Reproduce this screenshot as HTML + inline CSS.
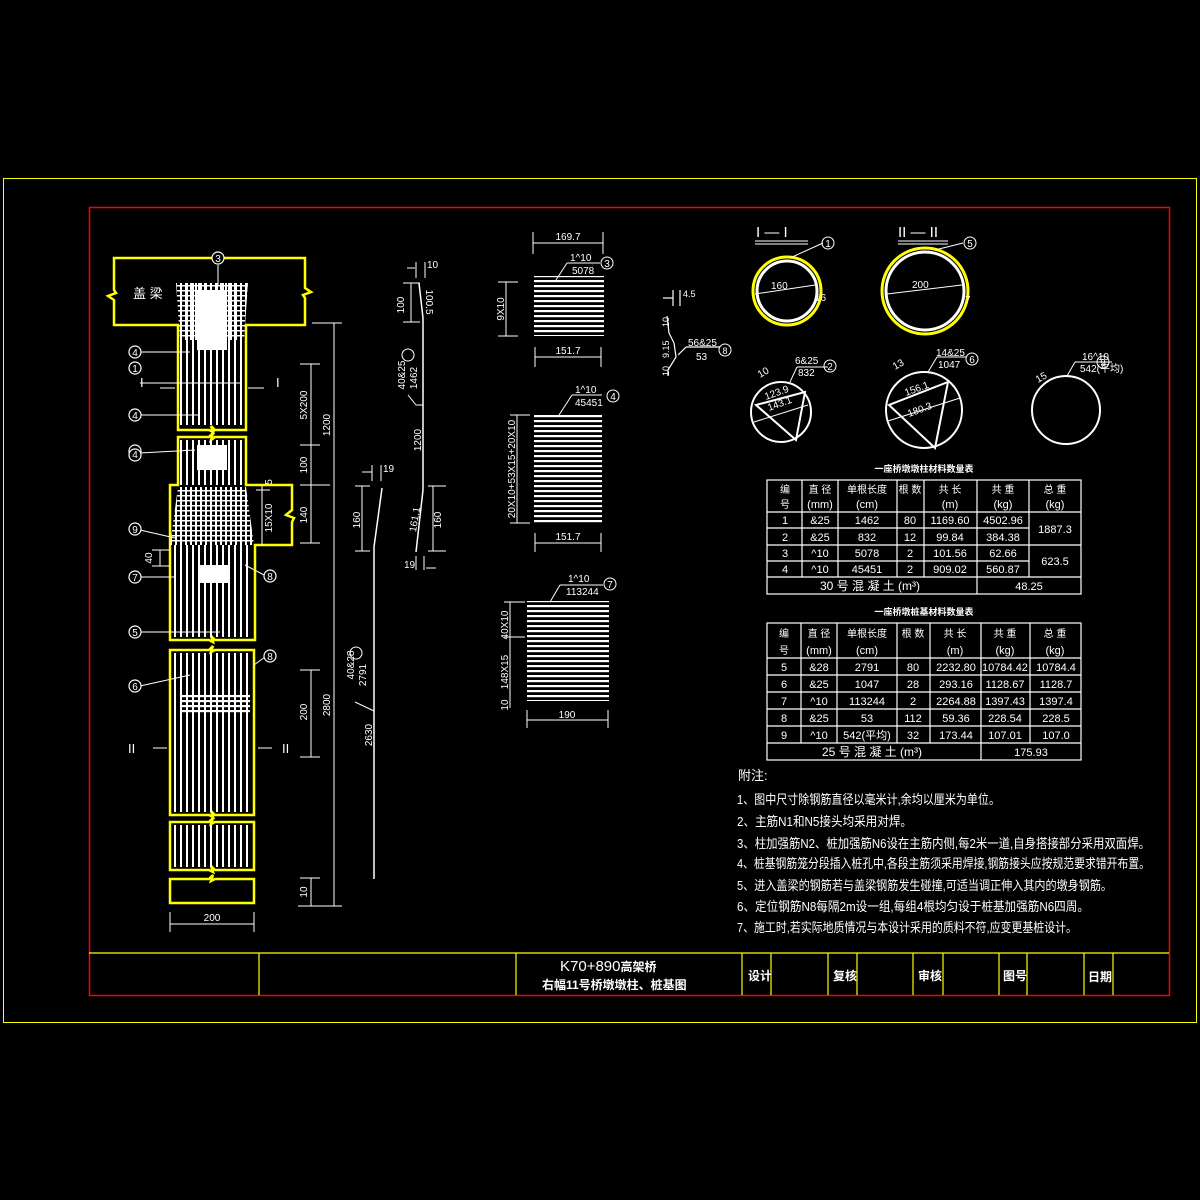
<!DOCTYPE html>
<html><head><meta charset="utf-8"><style>
html,body{margin:0;padding:0;background:#000;}
svg{display:block}
text{font-family:"Liberation Sans","Noto Sans CJK SC",sans-serif;fill:#fff}
</style></head><body>
<svg width="1200" height="1200" viewBox="0 0 1200 1200" xmlns="http://www.w3.org/2000/svg">
<defs>
<pattern id="vb" width="6" height="10" patternUnits="userSpaceOnUse"><rect x="0" y="0" width="2" height="10" fill="#fff"/></pattern>
<pattern id="hb" width="10" height="5" patternUnits="userSpaceOnUse"><rect x="0" y="0" width="10" height="2.2" fill="#fff"/></pattern>
<pattern id="grid" width="5" height="5" patternUnits="userSpaceOnUse"><rect width="2" height="5" fill="#fff"/><rect width="5" height="1.5" fill="#fff"/></pattern>
</defs>
<rect width="1200" height="1200" fill="#000"/>
<rect x="3.5" y="178.5" width="1193" height="844" fill="none" stroke="#ff0" stroke-width="1"/>
<rect x="89.5" y="207.5" width="1080" height="788" fill="none" stroke="#f00" stroke-width="1.5"/>
<g stroke="#ff0" stroke-width="1.2">
<line x1="89" y1="953" x2="1169" y2="953"/>
<line x1="259" y1="953" x2="259" y2="995"/><line x1="516" y1="953" x2="516" y2="995"/>
<line x1="742" y1="953" x2="742" y2="995"/><line x1="771" y1="953" x2="771" y2="995"/>
<line x1="828" y1="953" x2="828" y2="995"/><line x1="857" y1="953" x2="857" y2="995"/>
<line x1="913" y1="953" x2="913" y2="995"/><line x1="943" y1="953" x2="943" y2="995"/>
<line x1="999" y1="953" x2="999" y2="995"/><line x1="1027" y1="953" x2="1027" y2="995"/>
<line x1="1084" y1="953" x2="1084" y2="995"/><line x1="1113" y1="953" x2="1113" y2="995"/>
</g>
<text x="560" y="971" font-size="15">K70+890<tspan font-size="12" font-weight="bold">高架桥</tspan></text>
<text x="542" y="989" font-size="12" font-weight="bold">右幅11号桥墩墩柱、桩基图</text>
<g font-size="12" font-weight="bold"><text x="748" y="980">设计</text><text x="833" y="980">复核</text><text x="918" y="980">审核</text><text x="1003" y="980">图号</text><text x="1088" y="981">日期</text></g>

<g fill="none" stroke="#ff0" stroke-width="2.5">
<path d="M178,325 H114 V300 L108,296 L116,293 L114,290 V258 H305 V288 L311,292 L303,295 L305,298 V325 H246 V430 H215 L211,426 L213,432 L209,430 H178 Z"/>
<path d="M178,437 H209 L213,433 L211,440 L215,437 H246 V485 H292 V510 L286,515 L294,518 L292,522 V545 H255 V640 H215 L211,636 L213,642 L209,640 H170 V485 H178 Z"/>
<path d="M170,650 H209 L213,646 L211,652 L215,650 H254 V815 H215 L211,811 L213,817 L209,815 H170 Z"/>
<path d="M170,822 H209 L213,818 L211,824 L215,822 H254 V870 H215 L211,866 L213,872 L209,870 H170 Z"/>
<path d="M170,879 H209 L213,875 L211,881 L215,879 H254 V903 H170 Z"/>
</g>
<path d="M176,283 L248,283 L244,325 L244,425 L180,425 L180,325 Z" fill="url(#vb)"/>
<path d="M176,283 L248,283 L244,340 L180,340 Z" fill="url(#grid)"/>
<rect x="197" y="290" width="30" height="60" fill="#fff"/>
<rect x="180" y="440" width="64" height="45" fill="url(#vb)"/>
<rect x="197" y="445" width="30" height="25" fill="#fff"/>
<path d="M178,487 L246,487 L254,545 L170,545 Z" fill="url(#grid)"/>
<rect x="172" y="545" width="80" height="92" fill="url(#vb)"/>
<rect x="200" y="565" width="30" height="18" fill="#fff"/>
<rect x="174" y="653" width="76" height="159" fill="url(#vb)"/>
<rect x="180" y="695" width="70" height="18" fill="url(#hb)"/>
<rect x="174" y="825" width="76" height="42" fill="url(#vb)"/>
<g stroke="#fff" stroke-width="1" fill="none">
<line x1="140" y1="383" x2="240" y2="383"/><line x1="140" y1="352" x2="190" y2="352"/><line x1="140" y1="415" x2="200" y2="415"/>
<line x1="140" y1="453" x2="195" y2="450"/><line x1="140" y1="530" x2="175" y2="538"/><line x1="140" y1="577" x2="175" y2="577"/><line x1="140" y1="632" x2="220" y2="632"/>
<line x1="140" y1="686" x2="190" y2="675"/><line x1="245" y1="565" x2="264" y2="575"/><line x1="254" y1="665" x2="265" y2="657"/>
<line x1="218" y1="265" x2="218" y2="285"/>
</g>
<g stroke="#fff" stroke-width="1.2" fill="#000" font-size="10">
<circle cx="218" cy="258" r="6"/><circle cx="135" cy="352" r="6"/><circle cx="135" cy="368" r="6"/><circle cx="135" cy="415" r="6"/><circle cx="135" cy="451" r="6"/><circle cx="135" cy="455" r="6"/><circle cx="135" cy="529" r="6"/><circle cx="135" cy="577" r="6"/><circle cx="135" cy="632" r="6"/><circle cx="135" cy="686" r="6"/><circle cx="270" cy="576" r="6"/><circle cx="270" cy="656" r="6"/>
</g>
<g font-size="10" text-anchor="middle"><text x="218" y="262">3</text><text x="135" y="356">4</text><text x="135" y="372">1</text><text x="135" y="419">4</text><text x="135" y="458">4</text><text x="135" y="533">9</text><text x="135" y="581">7</text><text x="135" y="636">5</text><text x="135" y="690">6</text><text x="270" y="580">8</text><text x="270" y="660">8</text></g>
<text x="133" y="298" font-size="13">盖 梁</text>
<g fill="#fff" font-size="13" font-family="Liberation Serif"><text x="140" y="387">I</text><text x="276" y="387">I</text><text x="128" y="753">II</text><text x="282" y="753">II</text></g>
<g stroke="#fff" stroke-width="1"><line x1="160" y1="388" x2="175" y2="388"/><line x1="248" y1="388" x2="264" y2="388"/><line x1="153" y1="748" x2="167" y2="748"/><line x1="258" y1="748" x2="272" y2="748"/></g>
<g stroke="#fff" stroke-width="1" fill="none">
<line x1="312" y1="323" x2="342" y2="323"/><line x1="334" y1="323" x2="334" y2="906"/><line x1="298" y1="906" x2="342" y2="906"/>
<line x1="300" y1="364" x2="320" y2="364"/><line x1="311" y1="364" x2="311" y2="543"/><line x1="300" y1="445" x2="320" y2="445"/><line x1="300" y1="485" x2="330" y2="485"/><line x1="300" y1="543" x2="320" y2="543"/>
<line x1="300" y1="670" x2="320" y2="670"/><line x1="311" y1="670" x2="311" y2="757"/><line x1="300" y1="757" x2="320" y2="757"/>
<line x1="300" y1="878" x2="320" y2="878"/><line x1="311" y1="878" x2="311" y2="906"/>
<line x1="262" y1="485" x2="262" y2="546"/><line x1="256" y1="490" x2="270" y2="490"/>
<line x1="170" y1="912" x2="170" y2="932"/><line x1="254" y1="912" x2="254" y2="932"/><line x1="170" y1="924" x2="254" y2="924"/>
<line x1="160" y1="550" x2="160" y2="566"/><line x1="152" y1="550" x2="170" y2="550"/><line x1="152" y1="566" x2="170" y2="566"/>
</g>
<g font-size="10" fill="#fff">
<text transform="translate(330,425) rotate(-90)" text-anchor="middle">1200</text>
<text transform="translate(307,405) rotate(-90)" text-anchor="middle">5X200</text>
<text transform="translate(307,465) rotate(-90)" text-anchor="middle">100</text>
<text transform="translate(307,515) rotate(-90)" text-anchor="middle">140</text>
<text transform="translate(272,518) rotate(-90)" text-anchor="middle">15X10</text>
<text transform="translate(272,482) rotate(-90)" text-anchor="middle">5</text>
<text transform="translate(330,705) rotate(-90)" text-anchor="middle">2800</text>
<text transform="translate(307,712) rotate(-90)" text-anchor="middle">200</text>
<text transform="translate(307,892) rotate(-90)" text-anchor="middle">10</text>
<text transform="translate(152,558) rotate(-90)" text-anchor="middle">40</text>
<text x="212" y="921" text-anchor="middle">200</text>
</g>
<g stroke="#fff" stroke-width="1.5" fill="none">
<path d="M419,283 L423,318 L423,490 L416,552"/>
<path d="M382,488 L374,547 L374,879"/>
</g>
<g stroke="#fff" stroke-width="1" fill="none">
<line x1="403" y1="283" x2="420" y2="283"/><line x1="411" y1="283" x2="411" y2="322"/><line x1="403" y1="322" x2="420" y2="322"/>
<line x1="416" y1="262" x2="416" y2="278"/><line x1="425" y1="262" x2="425" y2="278"/><line x1="407" y1="268" x2="415" y2="268"/>
<line x1="408" y1="395" x2="416" y2="405"/><line x1="416" y1="405" x2="423" y2="405"/>
<line x1="355" y1="486" x2="370" y2="486"/><line x1="362" y1="486" x2="362" y2="551"/><line x1="355" y1="551" x2="370" y2="551"/>
<line x1="372" y1="465" x2="372" y2="481"/><line x1="381" y1="465" x2="381" y2="481"/><line x1="362" y1="472" x2="372" y2="472"/>
<line x1="428" y1="486" x2="446" y2="486"/><line x1="433" y1="486" x2="433" y2="551"/><line x1="428" y1="551" x2="446" y2="551"/>
<line x1="416" y1="556" x2="416" y2="570"/><line x1="424" y1="556" x2="424" y2="570"/><line x1="426" y1="568" x2="436" y2="568"/>
<line x1="355" y1="702" x2="374" y2="711"/>
</g>
<g font-size="10" fill="#fff">
<text x="427" y="268">10</text>
<text transform="translate(404,305) rotate(-90)" text-anchor="middle">100</text>
<text transform="translate(426,302) rotate(90)" text-anchor="middle">100.5</text>
<text transform="translate(405,375) rotate(-90)" text-anchor="middle">40&amp;25</text>
<text transform="translate(417,378) rotate(-90)" text-anchor="middle">1462</text>
<circle cx="408" cy="355" r="6" fill="none" stroke="#fff"/>
<text transform="translate(421,440) rotate(-90)" text-anchor="middle">1200</text>
<text transform="translate(418,520) rotate(-80)" text-anchor="middle">161.1</text>
<text transform="translate(360,520) rotate(-90)" text-anchor="middle">160</text>
<text transform="translate(441,520) rotate(-90)" text-anchor="middle">160</text>
<text x="383" y="472">19</text><text x="404" y="568">19</text>
<text transform="translate(354,665) rotate(-90)" text-anchor="middle">40&amp;28</text>
<text transform="translate(366,675) rotate(-90)" text-anchor="middle">2791</text>
<circle cx="356" cy="653" r="6" fill="none" stroke="#fff"/>
<text transform="translate(372,735) rotate(-90)" text-anchor="middle">2630</text>
</g>
<rect x="534" y="276" width="70" height="60" fill="url(#hb)"/>
<rect x="534" y="414" width="68" height="110" fill="url(#hb)"/>
<rect x="527" y="601" width="82" height="100" fill="url(#hb)"/>
<g stroke="#fff" stroke-width="1" fill="none">
<line x1="533" y1="232" x2="533" y2="254"/><line x1="603" y1="232" x2="603" y2="254"/><line x1="533" y1="243" x2="603" y2="243"/>
<line x1="535" y1="347" x2="535" y2="367"/><line x1="601" y1="347" x2="601" y2="367"/><line x1="535" y1="357" x2="601" y2="357"/>
<line x1="498" y1="282" x2="518" y2="282"/><line x1="506" y1="282" x2="506" y2="336"/><line x1="498" y1="336" x2="518" y2="336"/>
<line x1="556" y1="280" x2="567" y2="263"/><line x1="567" y1="263" x2="600" y2="263"/>
<line x1="559" y1="415" x2="572" y2="395"/><line x1="572" y1="395" x2="602" y2="395"/>
<line x1="517" y1="415" x2="517" y2="523"/><line x1="510" y1="415" x2="530" y2="415"/><line x1="510" y1="523" x2="530" y2="523"/>
<line x1="535" y1="533" x2="535" y2="552"/><line x1="601" y1="533" x2="601" y2="552"/><line x1="535" y1="543" x2="601" y2="543"/>
<line x1="550" y1="602" x2="560" y2="585"/><line x1="560" y1="585" x2="603" y2="585"/>
<line x1="510" y1="602" x2="510" y2="708"/><line x1="504" y1="602" x2="525" y2="602"/><line x1="504" y1="637" x2="525" y2="637"/>
<line x1="527" y1="710" x2="527" y2="728"/><line x1="608" y1="710" x2="608" y2="728"/><line x1="527" y1="720" x2="608" y2="720"/>
</g>
<g font-size="10" fill="#fff">
<text x="568" y="240" text-anchor="middle">169.7</text>
<text x="568" y="354" text-anchor="middle">151.7</text>
<text transform="translate(504,309) rotate(-90)" text-anchor="middle">9X10</text>
<text x="570" y="261">1^10</text><text x="572" y="274">5078</text>
<circle cx="607" cy="263" r="6" fill="none" stroke="#fff"/><text x="607" y="267" text-anchor="middle">3</text>
<text x="575" y="393">1^10</text><text x="575" y="406">45451</text>
<circle cx="613" cy="396" r="6" fill="none" stroke="#fff"/><text x="613" y="400" text-anchor="middle">4</text>
<text transform="translate(515,469) rotate(-90)" text-anchor="middle">20X10+53X15+20X10</text>
<text x="568" y="540" text-anchor="middle">151.7</text>
<text x="568" y="582">1^10</text><text x="566" y="595">113244</text>
<circle cx="610" cy="584" r="6" fill="none" stroke="#fff"/><text x="610" y="588" text-anchor="middle">7</text>
<text transform="translate(508,625) rotate(-90)" text-anchor="middle">40X10</text>
<text transform="translate(508,672) rotate(-90)" text-anchor="middle">148X15</text>
<text transform="translate(508,705) rotate(-90)" text-anchor="middle">10</text>
<text x="567" y="718" text-anchor="middle">190</text>
</g>
<g stroke="#fff" stroke-width="1.2" fill="none">
<path d="M667,316 L669,333 L674,343 L676,357 L668,370 L668,376"/>
<line x1="663" y1="298" x2="673" y2="298"/><line x1="673" y1="290" x2="673" y2="306"/><line x1="680" y1="290" x2="680" y2="306"/>
<line x1="678" y1="355" x2="686" y2="347"/><line x1="686" y1="347" x2="720" y2="347"/>
</g>
<g font-size="9" fill="#fff">
<text x="683" y="297">4.5</text>
<text transform="translate(669,327) rotate(-90)">10</text>
<text transform="translate(669,358) rotate(-90)">9.15</text>
<text transform="translate(669,376) rotate(-90)">10</text>
<text x="688" y="346" font-size="10">56&amp;25</text><text x="696" y="360" font-size="10">53</text>
<circle cx="725" cy="350" r="6" fill="none" stroke="#fff"/><text x="725" y="354" text-anchor="middle">8</text>
</g>
<g font-family="Liberation Serif" font-size="15" fill="#fff"><text x="756" y="237">I — I</text><text x="898" y="237">II — II</text></g>
<g stroke="#fff" stroke-width="1"><line x1="755" y1="241" x2="808" y2="241"/><line x1="755" y1="244" x2="808" y2="244"/><line x1="898" y1="241" x2="948" y2="241"/><line x1="898" y1="244" x2="948" y2="244"/></g>
<circle cx="787" cy="291" r="34" fill="none" stroke="#ff0" stroke-width="3"/>
<circle cx="787" cy="291" r="30" fill="none" stroke="#fff" stroke-width="3"/>
<circle cx="925" cy="291" r="43" fill="none" stroke="#ff0" stroke-width="3"/>
<circle cx="925" cy="291" r="39" fill="none" stroke="#fff" stroke-width="3"/>
<g stroke="#fff" stroke-width="1" fill="none">
<line x1="755" y1="294" x2="815" y2="285"/><line x1="790" y1="258" x2="823" y2="243"/>
<line x1="887" y1="294" x2="962" y2="285"/><line x1="935" y1="250" x2="963" y2="243"/>
<circle cx="781" cy="412" r="30" stroke-width="2"/><path d="M756,405 L805,392 L796,440 Z" stroke-width="2"/><line x1="754" y1="422" x2="808" y2="405"/>
<line x1="790" y1="382" x2="797" y2="367"/><line x1="797" y1="367" x2="828" y2="367"/>
<circle cx="924" cy="410" r="38" stroke-width="2"/><path d="M889,405 L948,382 L935,448 Z" stroke-width="2"/><line x1="888" y1="421" x2="960" y2="398"/>
<line x1="928" y1="372" x2="937" y2="357"/><line x1="937" y1="357" x2="966" y2="357"/>
<circle cx="1066" cy="410" r="34" stroke-width="2"/>
<line x1="1067" y1="376" x2="1075" y2="362"/><line x1="1075" y1="362" x2="1112" y2="362"/>
</g>
<g font-size="10" fill="#fff">
<text x="771" y="289">160</text><text x="912" y="288">200</text>
<text x="815" y="301">16</text><text x="965" y="303">7</text>
<circle cx="828" cy="243" r="6" fill="none" stroke="#fff"/><text x="828" y="247" text-anchor="middle">1</text>
<circle cx="970" cy="243" r="6" fill="none" stroke="#fff"/><text x="970" y="247" text-anchor="middle">5</text>
<text x="795" y="364">6&amp;25</text><text x="798" y="376">832</text>
<circle cx="830" cy="366" r="6" fill="none" stroke="#fff"/><text x="830" y="370" text-anchor="middle">2</text>
<text x="936" y="356">14&amp;25</text><text x="938" y="368">1047</text>
<circle cx="972" cy="359" r="6" fill="none" stroke="#fff"/><text x="972" y="363" text-anchor="middle">6</text>
<text x="1082" y="360">16^10</text><text x="1080" y="372">542(平均)</text>
<circle cx="1103" cy="362" r="6" fill="none" stroke="#fff"/><text x="1103" y="366" text-anchor="middle">9</text>
<text transform="translate(766,400) rotate(-20)">123.9</text><text transform="translate(769,411) rotate(-20)">143.1</text>
<text transform="translate(906,396) rotate(-20)">156.1</text><text transform="translate(909,417) rotate(-20)">180.3</text>
<text transform="translate(760,378) rotate(-30)">10</text><text transform="translate(895,370) rotate(-30)">13</text><text transform="translate(1038,383) rotate(-30)">15</text>
</g>
<text x="924" y="472" font-size="9" text-anchor="middle" font-weight="bold">一座桥墩墩柱材料数量表</text>
<g stroke="#fff" stroke-width="1.2" fill="none">
<rect x="767" y="480" width="314" height="114"/>
<line x1="767" y1="512" x2="1081" y2="512"/><line x1="767" y1="528" x2="1029" y2="528"/><line x1="767" y1="545" x2="1081" y2="545"/><line x1="767" y1="561" x2="1029" y2="561"/><line x1="767" y1="577" x2="1081" y2="577"/>
<line x1="802" y1="480" x2="802" y2="577"/><line x1="838" y1="480" x2="838" y2="577"/><line x1="897" y1="480" x2="897" y2="577"/><line x1="924" y1="480" x2="924" y2="577"/><line x1="977" y1="480" x2="977" y2="594"/><line x1="1029" y1="480" x2="1029" y2="577"/>
</g>
<g font-size="11" fill="#fff" text-anchor="middle">
<text x="785" y="493" font-size="10">编</text><text x="785" y="508" font-size="10">号</text>
<text x="820" y="493" font-size="10">直 径</text><text x="820" y="508">(mm)</text>
<text x="867" y="493" font-size="10">单根长度</text><text x="867" y="508">(cm)</text>
<text x="910" y="493" font-size="10">根 数</text>
<text x="950" y="493" font-size="10">共 长</text><text x="950" y="508">(m)</text>
<text x="1003" y="493" font-size="10">共 重</text><text x="1003" y="508">(kg)</text>
<text x="1055" y="493" font-size="10">总 重</text><text x="1055" y="508">(kg)</text>
<text x="785" y="524">1</text><text x="820" y="524">&amp;25</text><text x="867" y="524">1462</text><text x="910" y="524">80</text><text x="950" y="524">1169.60</text><text x="1003" y="524">4502.96</text>
<text x="785" y="541">2</text><text x="820" y="541">&amp;25</text><text x="867" y="541">832</text><text x="910" y="541">12</text><text x="950" y="541">99.84</text><text x="1003" y="541">384.38</text>
<text x="1055" y="533">1887.3</text>
<text x="785" y="557">3</text><text x="820" y="557">^10</text><text x="867" y="557">5078</text><text x="910" y="557">2</text><text x="950" y="557">101.56</text><text x="1003" y="557">62.66</text>
<text x="785" y="573">4</text><text x="820" y="573">^10</text><text x="867" y="573">45451</text><text x="910" y="573">2</text><text x="950" y="573">909.02</text><text x="1003" y="573">560.87</text>
<text x="1055" y="565">623.5</text>
<text x="870" y="590" font-size="12">30 号 混 凝 土 (m³)</text><text x="1029" y="590">48.25</text>
</g>
<text x="924" y="615" font-size="9" text-anchor="middle" font-weight="bold">一座桥墩桩基材料数量表</text>
<g stroke="#fff" stroke-width="1.2" fill="none">
<rect x="767" y="623" width="314" height="137"/>
<line x1="767" y1="658" x2="1081" y2="658"/><line x1="767" y1="675" x2="1081" y2="675"/><line x1="767" y1="692" x2="1081" y2="692"/><line x1="767" y1="709" x2="1081" y2="709"/><line x1="767" y1="726" x2="1081" y2="726"/><line x1="767" y1="743" x2="1081" y2="743"/>
<line x1="801" y1="623" x2="801" y2="743"/><line x1="837" y1="623" x2="837" y2="743"/><line x1="897" y1="623" x2="897" y2="743"/><line x1="930" y1="623" x2="930" y2="743"/><line x1="981" y1="623" x2="981" y2="760"/><line x1="1030" y1="623" x2="1030" y2="743"/>
</g>
<g font-size="11" fill="#fff" text-anchor="middle">
<text x="784" y="637" font-size="10">编</text><text x="784" y="654" font-size="10">号</text>
<text x="819" y="637" font-size="10">直 径</text><text x="819" y="654">(mm)</text>
<text x="867" y="637" font-size="10">单根长度</text><text x="867" y="654">(cm)</text>
<text x="913" y="637" font-size="10">根 数</text>
<text x="955" y="637" font-size="10">共 长</text><text x="955" y="654">(m)</text>
<text x="1005" y="637" font-size="10">共 重</text><text x="1005" y="654">(kg)</text>
<text x="1055" y="637" font-size="10">总 重</text><text x="1055" y="654">(kg)</text>
<text x="784" y="671">5</text><text x="819" y="671">&amp;28</text><text x="867" y="671">2791</text><text x="913" y="671">80</text><text x="956" y="671">2232.80</text><text x="1005" y="671">10784.42</text><text x="1056" y="671">10784.4</text>
<text x="784" y="688">6</text><text x="819" y="688">&amp;25</text><text x="867" y="688">1047</text><text x="913" y="688">28</text><text x="956" y="688">293.16</text><text x="1005" y="688">1128.67</text><text x="1056" y="688">1128.7</text>
<text x="784" y="705">7</text><text x="819" y="705">^10</text><text x="867" y="705">113244</text><text x="913" y="705">2</text><text x="956" y="705">2264.88</text><text x="1005" y="705">1397.43</text><text x="1056" y="705">1397.4</text>
<text x="784" y="722">8</text><text x="819" y="722">&amp;25</text><text x="867" y="722">53</text><text x="913" y="722">112</text><text x="956" y="722">59.36</text><text x="1005" y="722">228.54</text><text x="1056" y="722">228.5</text>
<text x="784" y="739">9</text><text x="819" y="739">^10</text><text x="867" y="739">542(平均)</text><text x="913" y="739">32</text><text x="956" y="739">173.44</text><text x="1005" y="739">107.01</text><text x="1056" y="739">107.0</text>
<text x="872" y="756" font-size="12">25 号 混 凝 土 (m³)</text><text x="1031" y="756">175.93</text>
</g>
<g font-size="13" fill="#fff" lengthAdjust="spacingAndGlyphs">
<text x="738" y="780">附注:</text>
<text x="737" y="804" textLength="263" lengthAdjust="spacingAndGlyphs">1、图中尺寸除钢筋直径以毫米计,余均以厘米为单位。</text>
<text x="737" y="826" textLength="175" lengthAdjust="spacingAndGlyphs">2、主筋N1和N5接头均采用对焊。</text>
<text x="737" y="848" textLength="413" lengthAdjust="spacingAndGlyphs">3、柱加强筋N2、桩加强筋N6设在主筋内侧,每2米一道,自身搭接部分采用双面焊。</text>
<text x="737" y="868" textLength="413" lengthAdjust="spacingAndGlyphs">4、桩基钢筋笼分段插入桩孔中,各段主筋须采用焊接,钢筋接头应按规范要求错开布置。</text>
<text x="737" y="890" textLength="375" lengthAdjust="spacingAndGlyphs">5、进入盖梁的钢筋若与盖梁钢筋发生碰撞,可适当调正伸入其内的墩身钢筋。</text>
<text x="737" y="911" textLength="352" lengthAdjust="spacingAndGlyphs">6、定位钢筋N8每隔2m设一组,每组4根均匀设于桩基加强筋N6四周。</text>
<text x="737" y="932" textLength="340" lengthAdjust="spacingAndGlyphs">7、施工时,若实际地质情况与本设计采用的质料不符,应变更基桩设计。</text>
</g>
</svg>
</body></html>
